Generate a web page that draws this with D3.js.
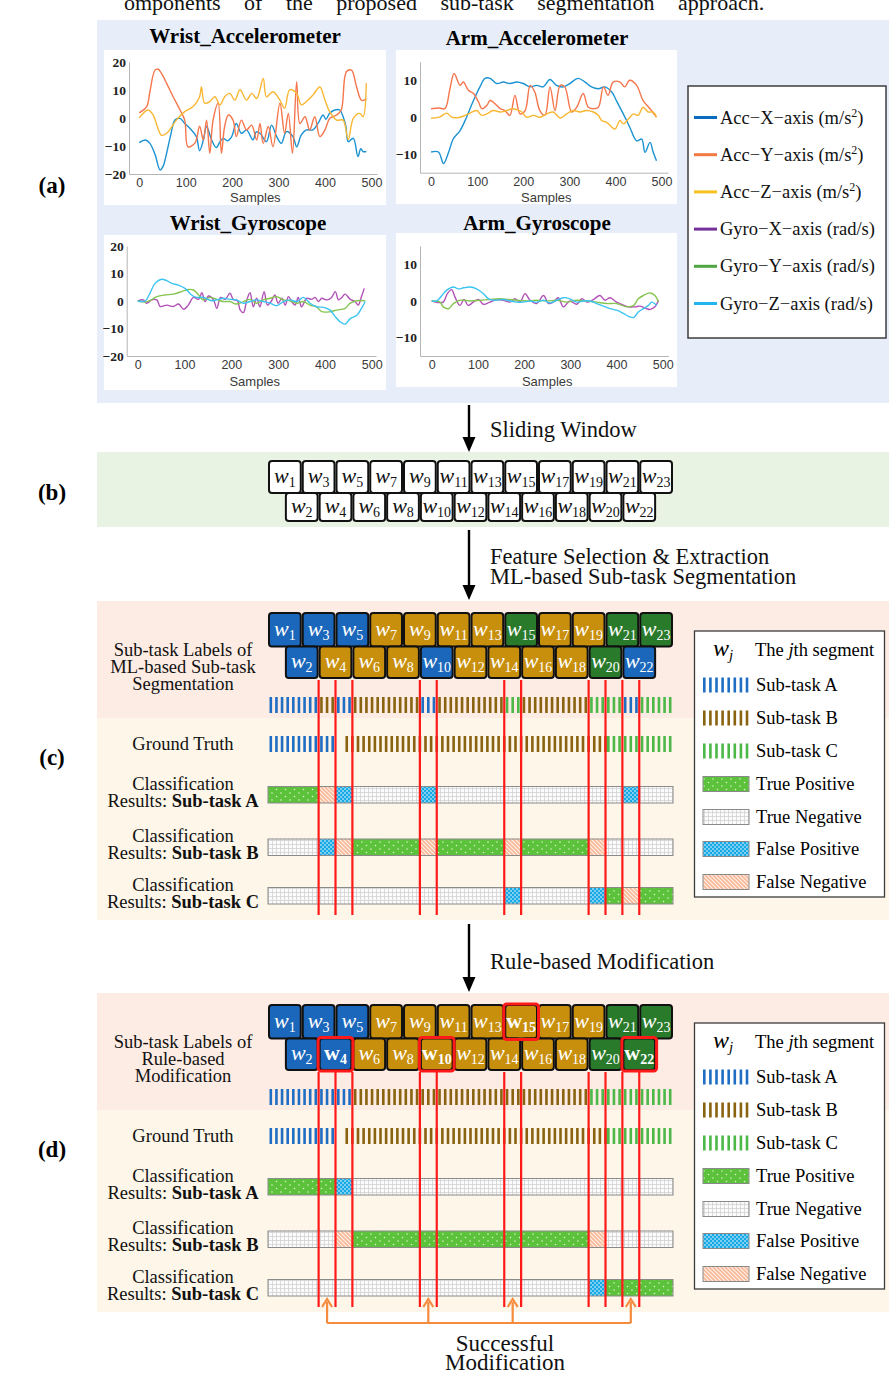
<!DOCTYPE html>
<html>
<head>
<meta charset="utf-8">
<script src="https://cdn.jsdelivr.net/npm/d3@7"></script>
<style>
  body { margin: 0; background: #fff; }
  svg { display: block; }
</style>
</head>
<body>
<svg id="fig" width="889" height="1373"></svg>
<script>
// ---------- sensor recordings: [sample, value] ----------
const sampleTicks = [0, 100, 200, 300, 400, 500];

const wristAccX = [[0,-8.8],[14,-7.9],[23,-9.1],[34,-13],[45,-18.6],[52,-17],[59,-12.6],[68,-6],[77,-0.8],[88,-0.2],[98,-2.0],[109,-3.7],[123,-6.7],[130,-11.7],[138,-8],[145,-3.1],[156,-7.9],[166,-10.6],[174,-8.5],[181,-7.3],[190,-8.2],[199,-6.7],[209,-2.0],[220,-5.5],[231,-4.3],[245,-7.9],[252,-5],[260,-5.5],[274,-8.5],[285,-2.6],[296,-6.7],[306,-9.1],[317,-4.9],[331,-6.7],[339,-10.3],[349,-6.1],[360,-4.3],[374,-4.3],[385,-2.0],[396,1.0],[402,-0.5],[410,1.6],[421,2.8],[432,2.8],[439,0.4],[445,-3],[450,-8.5],[461,-7.3],[471,-13.8],[477,-11],[482,-12.0],[489,-12.0]];
const wristAccY = [[0,1.8],[16,4],[23,9.3],[34,17],[41,17.3],[48,15.8],[59,12.3],[73,7.5],[88,2.8],[98,-0.8],[105,-10.3],[120,-9],[130,-3],[138,-7.9],[145,-0.8],[152,-12.6],[159,-0.8],[170,5.2],[177,-12.6],[184,-3],[192,1],[202,-0.8],[209,-6.7],[220,-0.8],[231,-4.3],[242,-2.6],[253,-7.9],[260,-2],[267,-9.1],[278,-3.1],[288,-10.3],[303,5.2],[313,-5.5],[321,1.6],[330,-12.6],[339,12.9],[346,-2],[357,0.4],[367,-4.3],[378,0.4],[389,-6.7],[400,-4.3],[410,-0.2],[425,1],[435,2.8],[446,16.4],[457,17],[468,11],[479,6.2],[489,6.8]];
const wristAccZ = [[0,0],[19,2.8],[30,1.0],[48,-6.2],[59,-5.5],[80,-0.8],[98,2.2],[116,4],[130,7.5],[134,11],[141,5.2],[152,5.8],[163,7.5],[174,4.6],[184,7.5],[195,8.7],[206,6.3],[217,10],[231,6.3],[242,8.7],[253,6.9],[267,14],[274,7.5],[288,9.3],[303,6.3],[313,3.4],[324,10],[339,8.7],[349,4.6],[360,5.8],[374,8.1],[389,11],[400,6.3],[410,2.2],[425,-0.8],[439,-0.8],[450,-7.7],[461,-0.2],[475,1.6],[482,0.4],[489,12.3]];

const armAccX = [[0,-9.4],[16,-9.4],[27,-12.5],[38,-9.5],[48,-5.9],[63,-3.6],[77,0],[92,4.5],[106,8.2],[117,10.5],[128,10.5],[142,9.1],[157,9.5],[171,9.1],[186,9.5],[200,9.1],[215,8.2],[229,8.6],[243,8.2],[258,10.2],[272,8.6],[287,8.2],[301,9.1],[319,10.5],[334,9.5],[348,8.2],[363,7.7],[377,8.2],[392,6.8],[402,4.5],[417,0.9],[431,-2.7],[446,-6.4],[457,-5.9],[464,-9.5],[475,-6.8],[482,-9.5],[489,-11.8]];
const armAccY = [[0,2.3],[18,2.5],[30,2.3],[41,7.7],[50,11.8],[63,8.6],[70,9.5],[81,7.3],[92,6.4],[103,4.1],[110,2.3],[121,3.2],[128,4.5],[139,3.6],[150,2.3],[160,1.8],[171,0.5],[182,5.9],[193,0.9],[204,1.8],[215,8.6],[225,6.8],[236,1.8],[247,0.5],[258,8.2],[269,1.8],[280,8.6],[290,8.2],[305,1.4],[316,2.7],[330,6.4],[341,2.7],[352,2.3],[363,2.7],[374,8.2],[384,5.9],[395,9.5],[410,9.5],[420,8.2],[431,10],[446,8.6],[460,4.5],[475,2.3],[489,0]];
const armAccZ = [[0,-0.3],[18,0],[34,1.1],[45,0],[63,0],[81,0.9],[99,1.8],[110,0.5],[121,0.9],[135,1.8],[150,1.4],[164,1.8],[178,2.3],[197,1.4],[207,0],[222,0.5],[236,0],[251,0.9],[265,1.4],[280,-0.2],[294,0.9],[308,1.8],[323,1.4],[337,1.8],[352,1.4],[363,0.5],[370,-0.9],[381,-1.4],[392,-2.7],[399,-3.2],[410,-0.9],[417,-1.8],[428,-0.5],[439,0.9],[449,0.5],[460,2.7],[471,1.4],[482,1.4],[489,0]];

const wristGyroX = [[0,0],[12,0.4],[19,-0.8],[30,0.4],[41,0.4],[48,-2.0],[62,-1.5],[76,-2.0],[87,-1.1],[98,-3.0],[108,-1.5],[119,1.3],[130,0.6],[137,3.0],[144,-0.2],[151,1.8],[162,0.4],[169,-2.7],[177,1.3],[187,0.6],[197,2.8],[204,0.6],[213,0.1],[219,-3.3],[226,-4.2],[233,0.4],[240,3.0],[247,-2.1],[254,1.0],[261,-2.1],[270,3.4],[277,-1.5],[286,0.1],[293,2.2],[300,-0.8],[308,1.0],[315,-1.5],[322,1.6],[329,-0.2],[336,-1.5],[343,1.3],[350,-2.1],[361,1.0],[372,0.6],[379,1.3],[386,-0.2],[393,1.0],[404,0.4],[414,1.3],[422,3.4],[429,0.4],[436,1.3],[443,2.5],[454,0.6],[464,-0.2],[471,-1.5],[478,1.6],[484,4.6]];
const wristGyroY = [[0,0],[16,-0.4],[26,0.1],[41,1.6],[58,2.2],[76,2.5],[94,3.4],[108,4.2],[119,4.0],[130,2.2],[140,0.4],[155,1.3],[169,0.6],[183,-0.2],[197,-0.2],[211,-1.1],[226,-0.2],[240,0.6],[254,-0.8],[268,0.4],[283,1.0],[297,1.6],[311,0.4],[325,0.1],[340,-0.8],[354,-0.2],[368,-1.5],[382,-2.1],[393,-3.9],[411,-3.9],[425,-3.3],[443,-2.7],[454,-0.8],[468,0.1],[486,0.1]];
const wristGyroZ = [[0,0],[16,0],[26,2.8],[37,6.4],[51,7.9],[62,7.4],[73,6.4],[87,5.8],[101,4.6],[115,2.2],[126,1.3],[140,1.3],[158,0.1],[169,0.4],[183,1.0],[197,0.6],[211,0.4],[226,-0.8],[240,-0.2],[254,0.4],[268,-0.2],[283,-0.8],[297,-1.7],[311,-0.2],[325,0.4],[340,-0.2],[354,1.3],[368,-0.8],[382,-2.1],[397,-2.3],[411,-3.3],[422,-5.7],[432,-7.5],[443,-8.4],[454,-6.4],[468,-5.2],[478,-2.7],[486,-0.2]];

const armGyroX = [[0,0],[14,-0.4],[25,-0.3],[34,2.0],[43,3.1],[51,0.9],[61,-1.2],[70,0.4],[79,-1.2],[90,-0.3],[101,0.4],[112,-0.9],[126,-0.3],[141,0.4],[155,0.2],[170,-0.3],[180,0.6],[191,-0.3],[202,2.0],[213,0.2],[227,-0.7],[242,1.5],[253,-0.7],[263,-0.3],[274,0.9],[285,-1.6],[299,0],[314,-0.9],[325,0.6],[336,-0.3],[350,0.4],[364,1.5],[375,0.2],[386,0.9],[400,-0.3],[411,-0.9],[426,-1.6],[440,-1.6],[451,-1.4],[465,-2.1],[473,-2.3],[483,-1.6],[491,0.2]];
const armGyroY = [[0,0],[18,-0.3],[25,-1.6],[36,-2.1],[47,-0.7],[61,0.2],[83,0],[105,0.2],[126,0.4],[148,0.6],[166,0.4],[184,0.2],[206,0],[227,0.2],[249,0],[271,0.2],[292,-0.3],[314,0.2],[336,0],[357,-0.3],[379,-0.7],[400,-0.7],[422,-1.6],[437,-1.2],[447,0.6],[458,1.5],[473,2.2],[483,1.5],[491,-0.3]];
const armGyroZ = [[0,0],[11,0],[22,1.5],[32,2.9],[47,3.8],[58,3.3],[69,3.6],[83,3.8],[97,3.3],[112,2.0],[123,0.6],[137,0.2],[155,0.4],[170,0],[184,-0.3],[198,-0.3],[213,0],[227,-0.3],[242,0.2],[256,-0.5],[271,0.2],[285,0.9],[299,0.6],[314,-0.3],[328,0],[343,0],[357,-0.7],[372,-1.4],[386,-2.1],[400,-2.5],[415,-3.4],[426,-4.2],[437,-4.5],[447,-3.0],[458,-2.1],[469,-1.2],[476,-0.3],[487,-1.2]];

const sensorNames = ["Acc\u2212X\u2212axis", "Acc\u2212Y\u2212axis", "Acc\u2212Z\u2212axis", "Gyro\u2212X\u2212axis", "Gyro\u2212Y\u2212axis", "Gyro\u2212Z\u2212axis"];
const sensorUnits = ["m/s2", "m/s2", "m/s2", "rad/s", "rad/s", "rad/s"];

// ---------- windows and segments ----------
const windowIds = d3.range(1, 24);   // w1 ... w23
const windowLabelsML   = ["A","A","A","B","A","B","B","B","B","A","B","B","B","B","C","B","B","B","B","C","C","A","C"];
const windowLabelsRule = ["A","A","A","A","A","B","B","B","B","B","B","B","B","B","B","B","B","B","B","C","C","C","C"];
const modifiedWindows = [4, 10, 15, 22];
// one label per half-window interval (24 intervals)
const segmentLabelsML   = ["A","A","A","B","A","B","B","B","B","A","B","B","B","B","C","B","B","B","B","C","C","A","C","C"];
const segmentLabelsRule = ["A","A","A","A","A","B","B","B","B","B","B","B","B","B","B","B","B","B","B","C","C","C","C","C"];
const groundTruthByInterval = ["A","A","A","A","B","B","B","B","B","B","B","B","B","B","B","B","B","B","B","B","C","C","C","C"];
const groundTruthSegments = [{label:"A", from:0, to:4.0}, {label:"B", from:4.5, to:20}, {label:"C", from:20, to:24}];
const errorBoundaries = [3, 4, 5, 9, 10, 14, 15, 19, 20, 21, 22];
const modifiedIntervals = [3, 9, 14, 21];
const subtasks = ["A", "B", "C"];
const outcomeNames = {TP:"True Positive", TN:"True Negative", FP:"False Positive", FN:"False Negative"};

// ---------- styling ----------
const SERIF = "'Liberation Serif','Times New Roman',serif";
const SANS = "'Liberation Sans',Arial,sans-serif";
const lineColors = ["#1b92d2", "#f5754c", "#f8b733", "#b252b8", "#86c450", "#3bc4f2"];
const legendColors = ["#0b6bbf", "#f07a42", "#f7c11f", "#76309a", "#4ea541", "#22b6ef"];
const taskStripe = {A:"#1f6ec4", B:"#8a6311", C:"#4cb847"};
const taskBox = {A:"#1b67bb", B:"#c88f0d", C:"#2a7a2c"};

const svg = d3.select("#fig");
const defs = svg.append("defs");

// patterns for the classification outcomes
(function () {
  let p = defs.append("pattern").attr("id", "pTP").attr("patternUnits", "userSpaceOnUse").attr("width", 9).attr("height", 7);
  p.append("rect").attr("width", 9).attr("height", 7).attr("fill", "#5dc23b");
  p.append("circle").attr("cx", 2).attr("cy", 2).attr("r", 0.75).attr("fill", "#dff5d2");
  p.append("circle").attr("cx", 6.5).attr("cy", 5.5).attr("r", 0.75).attr("fill", "#dff5d2");

  p = defs.append("pattern").attr("id", "pTN").attr("patternUnits", "userSpaceOnUse").attr("width", 4).attr("height", 4);
  p.append("rect").attr("width", 4).attr("height", 4).attr("fill", "#fbfbfb");
  p.append("path").attr("d", "M0,0.4H4M0.4,0V4").attr("stroke", "#cdcdcd").attr("stroke-width", 0.8);

  p = defs.append("pattern").attr("id", "pFP").attr("patternUnits", "userSpaceOnUse").attr("width", 4).attr("height", 4);
  p.append("rect").attr("width", 4).attr("height", 4).attr("fill", "#17a8e6");
  p.append("rect").attr("x", 0.3).attr("y", 0.3).attr("width", 1.4).attr("height", 1.4).attr("fill", "#e8f8ff");
  p.append("rect").attr("x", 2.3).attr("y", 2.3).attr("width", 1.4).attr("height", 1.4).attr("fill", "#e8f8ff");

  p = defs.append("pattern").attr("id", "pFN").attr("patternUnits", "userSpaceOnUse").attr("width", 4).attr("height", 4);
  p.append("rect").attr("width", 4).attr("height", 4).attr("fill", "#f9b998");
  p.append("path").attr("d", "M-1,-1L5,5M-1,3L1,5M3,-1L5,1").attr("stroke", "#fff3ec").attr("stroke-width", 1.1);
})();

// ---------- partly clipped caption line at the very top ----------
svg.append("text").attr("x", 124).attr("y", 10).attr("font-family", SERIF).attr("font-size", 22)
  .attr("word-spacing", 18).attr("fill", "#111")
  .text("omponents of the proposed sub-task segmentation approach.");

// ---------- panel backgrounds ----------
svg.append("rect").attr("x", 97).attr("y", 20).attr("width", 792).attr("height", 383).attr("fill", "#e7eef9");
svg.append("rect").attr("x", 97).attr("y", 452).attr("width", 792).attr("height", 75).attr("fill", "#e8f3e4");

// panel letters
[["(a)", 185], ["(b)", 492], ["(c)", 757], ["(d)", 1149]].forEach(([t, y]) => {
  svg.append("text").attr("x", 52).attr("y", y).attr("dy", "0.35em").attr("text-anchor", "middle")
    .attr("font-family", SERIF).attr("font-weight", "bold").attr("font-size", 23).text(t);
});

// ---------- (a) sensor plots ----------
const charts = [
  {title:"Wrist_Accelerometer", tx:245, ty:36, box:[104,50,386,205], xr:[129,377], xd:[-22,512], yr:[174,61.7], yd:[-20,20], yt:[-20,-10,0,10,20], sl:197, series:[[wristAccX,0],[wristAccY,1],[wristAccZ,2]]},
  {title:"Arm_Accelerometer", tx:537, ty:38, box:[396,50,677,204], xr:[420,668], xd:[-24,514], yr:[172.7,61.7], yd:[-15,15], yt:[-10,0,10], sl:197, series:[[armAccX,0],[armAccY,1],[armAccZ,2]]},
  {title:"Wrist_Gyroscope", tx:248, ty:223, box:[104,235,386,390], xr:[126.7,376], xd:[-23.5,509], yr:[356,246], yd:[-20,20], yt:[-20,-10,0,10,20], sl:381, series:[[wristGyroX,3],[wristGyroY,4],[wristGyroZ,5]]},
  {title:"Arm_Gyroscope", tx:537, ty:223, box:[396,233,677,387], xr:[420,668.3], xd:[-25.3,512], yr:[356,246], yd:[-15,15], yt:[-10,0,10], sl:381, series:[[armGyroX,3],[armGyroY,4],[armGyroZ,5]]}
];

charts.forEach(c => {
  const g = svg.append("g");
  g.append("rect").attr("x", c.box[0]).attr("y", c.box[1]).attr("width", c.box[2] - c.box[0]).attr("height", c.box[3] - c.box[1]).attr("fill", "#fff");
  g.append("text").attr("x", c.tx).attr("y", c.ty).attr("dy", "0.35em").attr("text-anchor", "middle")
    .attr("font-family", SERIF).attr("font-weight", "bold").attr("font-size", 21).text(c.title);
  const x = d3.scaleLinear().domain(c.xd).range(c.xr);
  const y = d3.scaleLinear().domain(c.yd).range(c.yr);
  const xa = g.append("g").attr("transform", `translate(0,${c.yr[0]})`)
    .call(d3.axisBottom(x).tickValues(sampleTicks).tickSize(0).tickPadding(4));
  xa.selectAll("text").attr("font-family", SANS).attr("font-size", 12.5).attr("fill", "#3a3a3a");
  const ya = g.append("g").attr("transform", `translate(${c.xr[0]},0)`)
    .call(d3.axisLeft(y).tickValues(c.yt).tickSize(0).tickPadding(3));
  ya.selectAll("text").attr("font-family", SERIF).attr("font-size", 13.5).attr("font-weight", "bold").attr("fill", "#222");
  [xa, ya].forEach(a => a.select(".domain").attr("stroke", "#b5b5b5").attr("stroke-width", 1));
  g.append("text").attr("x", x(250)).attr("y", c.sl).attr("dy", "0.35em").attr("text-anchor", "middle")
    .attr("font-family", SANS).attr("font-size", 13).attr("fill", "#3a3a3a").text("Samples");
  const line = d3.line().x(d => x(d[0])).y(d => y(d[1])).curve(d3.curveCatmullRom.alpha(0.5));
  c.series.forEach(([data, ci]) => {
    g.append("path").datum(data).attr("d", line).attr("fill", "none")
      .attr("stroke", lineColors[ci]).attr("stroke-width", 1.4).attr("stroke-linejoin", "round");
  });
});

// sensor legend
(function () {
  const g = svg.append("g");
  g.append("rect").attr("x", 688).attr("y", 86).attr("width", 198).attr("height", 252).attr("fill", "#fff")
    .attr("stroke", "#3c3c3c").attr("stroke-width", 1.5);
  const ys = d3.scalePoint().domain(d3.range(sensorNames.length)).range([117.5, 303.5]);
  sensorNames.forEach((name, i) => {
    const yy = ys(i);
    g.append("line").attr("x1", 694).attr("x2", 717).attr("y1", yy).attr("y2", yy)
      .attr("stroke", legendColors[i]).attr("stroke-width", 3);
    const t = g.append("text").attr("x", 720).attr("y", yy + 6).attr("font-family", SERIF).attr("font-size", 18.5).attr("fill", "#111");
    const unit = sensorUnits[i];
    if (unit.endsWith("2")) {
      t.append("tspan").text(name + " (" + unit.slice(0, -1));
      t.append("tspan").attr("dy", -7).attr("font-size", 12).text("2");
      t.append("tspan").attr("dy", 7).text(")");
    } else {
      t.append("tspan").text(name + " (" + unit + ")");
    }
  });
})();

// ---------- flow arrows ----------
function flowArrow(y1, y2, lines, ty) {
  svg.append("line").attr("x1", 469).attr("x2", 469).attr("y1", y1).attr("y2", y2 - 12)
    .attr("stroke", "#000").attr("stroke-width", 2.4);
  svg.append("path").attr("d", `M${469 - 6.5},${y2 - 15}L469,${y2}L${469 + 6.5},${y2 - 15}Z`).attr("fill", "#000");
  lines.forEach((l, i) => {
    svg.append("text").attr("x", 490).attr("y", ty + i * 20).attr("dy", "0.35em")
      .attr("font-family", SERIF).attr("font-size", 22.5).attr("fill", "#111").text(l);
  });
}
flowArrow(405, 452, ["Sliding Window"], 429);
flowArrow(530, 600, ["Feature Selection & Extraction", "ML-based Sub-task Segmentation"], 556);
flowArrow(924, 992, ["Rule-based Modification"], 961);

// ---------- window scale ----------
const xs = d3.scaleLinear().domain([0, 24]).range([268, 673]);

function drawWindowRow(g, ids, yTop, yBot, fillOf, textColor, boldSet) {
  ids.forEach(j => {
    const x0 = xs(j - 1) + 1, x1 = xs(j + 1) - 1;
    g.append("rect").attr("x", x0).attr("y", yTop).attr("width", x1 - x0).attr("height", yBot - yTop)
      .attr("rx", 3).attr("fill", fillOf(j)).attr("stroke", "#111").attr("stroke-width", 2);
    const bold = boldSet && boldSet.includes(j);
    const t = g.append("text").attr("x", (x0 + x1) / 2).attr("y", (yTop + yBot) / 2 + 6).attr("text-anchor", "middle")
      .attr("font-family", SERIF).attr("fill", textColor);
    t.append("tspan").attr("font-size", 22).attr("font-style", bold ? "normal" : "italic")
      .attr("font-weight", bold ? "bold" : "normal").text("w");
    t.append("tspan").attr("font-size", 14).attr("dy", 4).attr("font-weight", bold ? "bold" : "normal").text(j);
  });
}

// (b) sliding windows
(function () {
  const g = svg.append("g");
  drawWindowRow(g, windowIds.filter(j => j % 2 === 1), 461, 493, () => "#fff", "#111");
  drawWindowRow(g, windowIds.filter(j => j % 2 === 0), 493, 521, () => "#fff", "#111");
})();

// ---------- (c)/(d) segmentation panels ----------
function stripeBars(g, y, h, bars) {
  g.selectAll(null).data(bars).join("rect")
    .attr("x", d => xs(d.t) - 1.3).attr("y", y).attr("width", 2.6).attr("height", h)
    .attr("fill", d => taskStripe[d.label]);
}

function mergeRuns(codes) {
  const runs = [];
  codes.forEach((c, i) => {
    if (runs.length && runs[runs.length - 1].code === c) runs[runs.length - 1].to = i + 1;
    else runs.push({code: c, from: i, to: i + 1});
  });
  return runs;
}

function drawSegPanel(dy, winLabels, segLabels, titleLines, highlight) {
  const g = svg.append("g").attr("transform", `translate(0,${dy})`);
  g.append("rect").attr("x", 97).attr("y", 601).attr("width", 792).attr("height", 117).attr("fill", "#fdece4");
  g.append("rect").attr("x", 97).attr("y", 718).attr("width", 792).attr("height", 202).attr("fill", "#fdf6e9");

  // left row titles
  const label = (lines, yc) => {
    lines.forEach((l, i) => {
      const t = g.append("text").attr("x", 183).attr("y", yc + i * 17).attr("dy", "0.35em").attr("text-anchor", "middle")
        .attr("font-family", SERIF).attr("font-size", 18.5).attr("fill", "#111");
      if (Array.isArray(l)) {
        t.append("tspan").text(l[0]);
        t.append("tspan").attr("font-weight", "bold").text(l[1]);
      } else t.text(l);
    });
  };
  label(titleLines, 650);
  label(["Ground Truth"], 744);
  subtasks.forEach((s, k) => label(["Classification", ["Results: ", "Sub-task " + s]], [784, 836, 885][k]));

  // predicted segment stripes
  const mlBars = d3.range(72).map(i => ({t: (i + 0.5) / 3, label: segLabels[Math.floor((i + 0.5) / 3)]}));
  stripeBars(g, 697, 16, mlBars);
  // ground-truth stripes
  const gtBars = [];
  groundTruthSegments.forEach(s => {
    for (let t = s.from + 1 / 6; t < s.to; t += 1 / 3) gtBars.push({t, label: s.label});
  });
  stripeBars(g, 736, 16, gtBars);

  // classification outcome bars
  const rowY = [786.5, 839, 887.5];
  subtasks.forEach((s, k) => {
    const codes = segLabels.map((p, n) => {
      const pred = p === s, truth = groundTruthByInterval[n] === s;
      return pred ? (truth ? "TP" : "FP") : (truth ? "FN" : "TN");
    });
    mergeRuns(codes).forEach(r => {
      g.append("rect").attr("x", xs(r.from)).attr("y", rowY[k]).attr("width", xs(r.to) - xs(r.from)).attr("height", 16.5)
        .attr("fill", `url(#p${r.code})`);
    });
    g.append("rect").attr("x", xs(0)).attr("y", rowY[k]).attr("width", xs(24) - xs(0)).attr("height", 16.5)
      .attr("fill", "none").attr("stroke", "#8a8a8a").attr("stroke-width", 1);
  });

  // red boundary lines
  errorBoundaries.forEach(b => {
    g.append("line").attr("x1", xs(b)).attr("x2", xs(b)).attr("y1", 680).attr("y2", 915)
      .attr("stroke", "#ff1a1a").attr("stroke-width", 2.2);
  });

  // labelled windows
  const fillOf = j => taskBox[winLabels[j - 1]];
  drawWindowRow(g, windowIds.filter(j => j % 2 === 1), 613, 646.5, fillOf, "#fff", highlight);
  drawWindowRow(g, windowIds.filter(j => j % 2 === 0), 646.5, 678, fillOf, "#fff", highlight);
  if (highlight) {
    highlight.forEach(j => {
      const top = j % 2 === 1;
      const y0 = top ? 612 : 645.5, y1 = top ? 647.5 : 679;
      g.append("rect").attr("x", xs(j - 1) - 0.5).attr("y", y0).attr("width", xs(j + 1) - xs(j - 1) + 1).attr("height", y1 - y0)
        .attr("rx", 3).attr("fill", "none").attr("stroke", "#ff1a1a").attr("stroke-width", 3);
    });
  }

  // legend
  const lg = g.append("g");
  lg.append("rect").attr("x", 694.5).attr("y", 631).attr("width", 190).attr("height", 266)
    .attr("fill", "#fff").attr("stroke", "#3c3c3c").attr("stroke-width", 1.3);
  const ly = [650, 685, 718, 751, 784, 817, 849, 882];
  const wj = lg.append("text").attr("x", 713).attr("y", ly[0] + 6).attr("font-family", SERIF).attr("font-style", "italic");
  wj.append("tspan").attr("font-size", 24).text("w");
  wj.append("tspan").attr("font-size", 15).attr("dy", 4).text("j");
  const tj = lg.append("text").attr("x", 755).attr("y", ly[0]).attr("dy", "0.35em").attr("font-family", SERIF).attr("font-size", 18.5);
  tj.append("tspan").text("The ");
  tj.append("tspan").attr("font-style", "italic").text("j");
  tj.append("tspan").text("th segment");
  subtasks.forEach((s, k) => {
    const yy = ly[k + 1];
    d3.range(8).forEach(i => {
      lg.append("rect").attr("x", 703 + i * 6.1).attr("y", yy - 7.5).attr("width", 2.6).attr("height", 15).attr("fill", taskStripe[s]);
    });
    lg.append("text").attr("x", 756).attr("y", yy).attr("dy", "0.35em").attr("font-family", SERIF).attr("font-size", 18.5).text("Sub-task " + s);
  });
  ["TP", "TN", "FP", "FN"].forEach((c, k) => {
    const yy = ly[k + 4];
    lg.append("rect").attr("x", 703).attr("y", yy - 7.5).attr("width", 46).attr("height", 15)
      .attr("fill", `url(#p${c})`).attr("stroke", "#8a8a8a").attr("stroke-width", 1);
    lg.append("text").attr("x", 756).attr("y", yy).attr("dy", "0.35em").attr("font-family", SERIF).attr("font-size", 18.5).text(outcomeNames[c]);
  });
  return g;
}

drawSegPanel(0, windowLabelsML, segmentLabelsML, ["Sub-task Labels of", "ML-based Sub-task", "Segmentation"], null);
drawSegPanel(392, windowLabelsRule, segmentLabelsRule, ["Sub-task Labels of", "Rule-based", "Modification"], modifiedWindows);

// ---------- successful modification arrows ----------
(function () {
  const ORANGE = "#f58b3c";
  const g = svg.append("g");
  const xsMid = modifiedIntervals.map(n => xs(n + 0.5));
  g.append("line").attr("x1", d3.min(xsMid)).attr("x2", d3.max(xsMid)).attr("y1", 1323).attr("y2", 1323)
    .attr("stroke", ORANGE).attr("stroke-width", 2.2);
  xsMid.forEach(x => {
    g.append("line").attr("x1", x).attr("x2", x).attr("y1", 1323).attr("y2", 1302)
      .attr("stroke", ORANGE).attr("stroke-width", 2.2);
    g.append("path").attr("d", `M${x - 5},${1307}L${x},${1299}L${x + 5},${1307}`)
      .attr("fill", "none").attr("stroke", ORANGE).attr("stroke-width", 2.2);
  });
  ["Successful", "Modification"].forEach((t, i) => {
    g.append("text").attr("x", 505).attr("y", 1343 + i * 19).attr("dy", "0.35em").attr("text-anchor", "middle")
      .attr("font-family", SERIF).attr("font-size", 23).attr("fill", "#111").text(t);
  });
})();
</script>
</body>
</html>
